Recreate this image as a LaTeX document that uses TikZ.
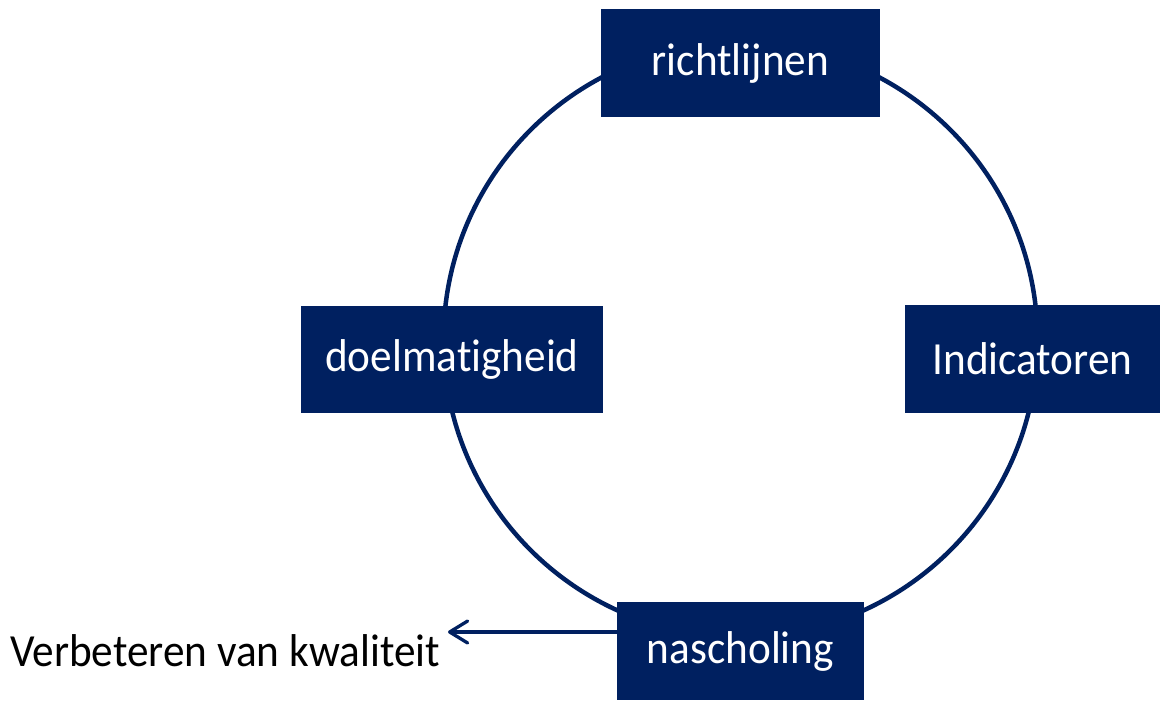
\documentclass[tikz,border=0pt]{standalone}
\usepackage{fontspec}
\setmainfont{Carlito}[FakeStretch=0.94, Ligatures=NoCommon]
\usetikzlibrary{arrows.meta}
\definecolor{navy}{HTML}{002060}
\tikzset{
  ring/.style={draw=navy, line width=4.5pt},
  stage/.style={fill=navy, draw=none, text=white, inner sep=0pt, font=\fontsize{46}{50}\selectfont},
  flow/.style={draw=navy, line width=3.3pt, -{Straight Barb[length=18pt,width=22pt,line cap=round,line join=round]}},
  note/.style={text=black, inner sep=0pt, font=\fontsize{46}{50}\selectfont}
}
\begin{document}
\begin{tikzpicture}[x=1pt,y=-1pt]
\useasboundingbox (0,0) rectangle (1160,702);
\draw[ring] (740.5,340) circle (297pt);
\node[stage, minimum width=279pt, minimum height=108pt] (richt) at (740.5,63.3) {richtlijnen};
\node[stage, minimum width=302pt, minimum height=107pt] (doel) at (452,359.5) {doelmatigheid};
\node[stage, minimum width=255pt, minimum height=108pt] (ind) at (1032.5,359) {Indicatoren};
\node[stage, minimum width=247pt, minimum height=98pt] (nasch) at (740.5,651) {nascholing};
\node[note, anchor=base west] (verb) at (10,666) {Verbeteren van kwaliteit};
\coordinate (tip) at (448,632);
\draw[flow] (nasch.west |- tip) -- (tip);
\end{tikzpicture}
\end{document}
